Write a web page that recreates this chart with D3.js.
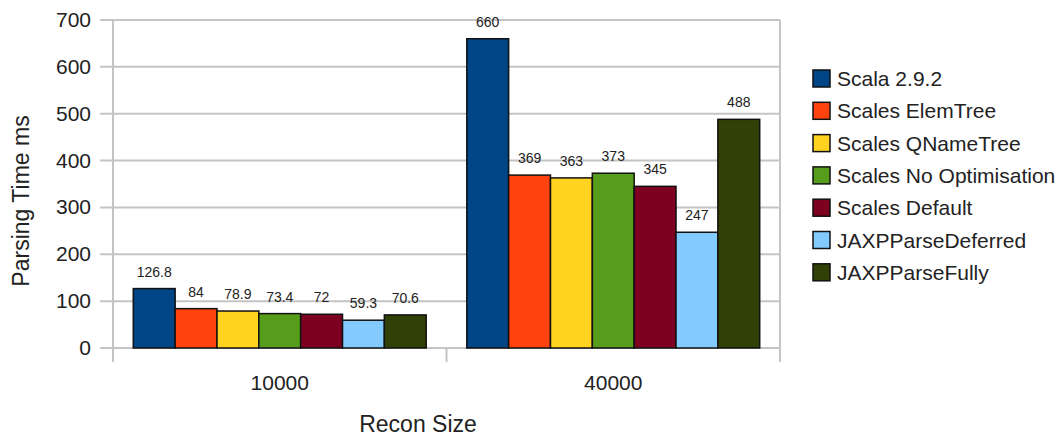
<!DOCTYPE html>
<html>
<head>
<meta charset="utf-8">
<script src="https://cdn.jsdelivr.net/npm/d3@7"></script>
<style>
  body { margin: 0; background: #fff; }
  text { font-family: "Liberation Sans", Arial, sans-serif; }
</style>
</head>
<body>
<script>
const categories = ['10000', '40000'];
const seriesNames = [
  'Scala 2.9.2', 'Scales ElemTree', 'Scales QNameTree', 'Scales No Optimisation',
  'Scales Default', 'JAXPParseDeferred', 'JAXPParseFully',
];
const colors = ['#004586', '#ff420e', '#ffd320', '#579d1c', '#7e0021', '#83caff', '#314004'];
const values10000 = [126.8, 84, 78.9, 73.4, 72, 59.3, 70.6];
const values40000 = [660, 369, 363, 373, 345, 247, 488];
const yTicks = [0, 100, 200, 300, 400, 500, 600, 700];

const valuesByCat = [values10000, values40000];
const rows = [];
categories.forEach((c, ci) => {
  seriesNames.forEach((s, si) => {
    rows.push({ cat: c, series: s, value: valuesByCat[ci][si], color: colors[si] });
  });
});

const width = 1058;
const height = 437;
const plot = { left: 113, right: 780, top: 20, bottom: 348 };

const svg = d3.select('body').append('svg')
  .attr('width', width)
  .attr('height', height);

const x = d3.scaleBand().domain(categories).range([plot.left, plot.right]);
const xInner = d3.scaleBand().domain(seriesNames)
  .range([0, x.bandwidth()])
  .paddingOuter(0.485)
  .paddingInner(0);
const y = d3.scaleLinear().domain([0, 700]).range([plot.bottom, plot.top]);

// grid lines
svg.append('g').classed('grid', true)
  .selectAll('line')
  .data(yTicks)
  .enter()
  .append('line')
  .attr('x1', plot.left - 13)
  .attr('x2', plot.right)
  .attr('y1', (d) => y(d))
  .attr('y2', (d) => y(d))
  .style('stroke', '#c4c4c4')
  .style('stroke-width', 2);

// vertical frame lines and category dividers
const dividers = [plot.left, x(categories[1]), plot.right];
svg.append('g').classed('dividers', true)
  .selectAll('line')
  .data(dividers)
  .enter()
  .append('line')
  .attr('x1', (d) => d)
  .attr('x2', (d) => d)
  .attr('y1', (d, i) => (i === 1 ? plot.bottom : plot.top))
  .attr('y2', plot.bottom + 14)
  .style('stroke', '#c4c4c4')
  .style('stroke-width', 2);

// y tick labels
svg.append('g').classed('y-labels', true)
  .selectAll('text')
  .data(yTicks)
  .enter()
  .append('text')
  .attr('x', 91)
  .attr('y', (d) => y(d) + 7)
  .attr('text-anchor', 'end')
  .style('font-size', '21px')
  .style('fill', '#222')
  .text((d) => d);

// bars
svg.append('g').classed('bars', true)
  .selectAll('rect')
  .data(rows)
  .enter()
  .append('rect')
  .attr('x', (d) => x(d.cat) + xInner(d.series))
  .attr('y', (d) => y(d.value))
  .attr('width', xInner.bandwidth())
  .attr('height', (d) => y(0) - y(d.value))
  .style('fill', (d) => d.color)
  .style('stroke', '#111')
  .style('stroke-width', 1.5);

// value labels
svg.append('g').classed('values', true)
  .selectAll('text')
  .data(rows)
  .enter()
  .append('text')
  .attr('x', (d) => x(d.cat) + xInner(d.series) + xInner.bandwidth() / 2)
  .attr('y', (d) => y(d.value) - 12)
  .attr('text-anchor', 'middle')
  .style('font-size', '14px')
  .style('fill', '#222')
  .text((d) => d.value);

// category labels
svg.append('g').classed('x-labels', true)
  .selectAll('text')
  .data(categories)
  .enter()
  .append('text')
  .attr('x', (d) => x(d) + x.bandwidth() / 2)
  .attr('y', 390)
  .attr('text-anchor', 'middle')
  .style('font-size', '21px')
  .style('fill', '#222')
  .text((d) => d);

// axis titles
svg.append('text')
  .attr('transform', 'translate(29,201) rotate(-90)')
  .attr('text-anchor', 'middle')
  .style('font-size', '23px')
  .style('fill', '#222')
  .text('Parsing Time ms');

svg.append('text')
  .attr('x', 418)
  .attr('y', 432)
  .attr('text-anchor', 'middle')
  .style('font-size', '23px')
  .style('fill', '#222')
  .text('Recon Size');

// legend
const legend = svg.append('g').classed('legend', true)
  .selectAll('g')
  .data(seriesNames)
  .enter()
  .append('g')
  .attr('transform', (d, i) => `translate(813,${70 + i * 32.3})`);

legend.append('rect')
  .attr('width', 17)
  .attr('height', 17)
  .style('fill', (d, i) => colors[i])
  .style('stroke', '#111')
  .style('stroke-width', 1.5);

legend.append('text')
  .attr('x', 24)
  .attr('y', 16)
  .style('font-size', '21px')
  .style('fill', '#222')
  .text((d) => d);
</script>
</body>
</html>
